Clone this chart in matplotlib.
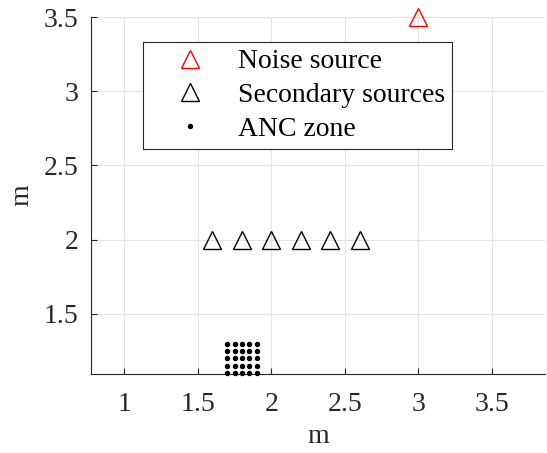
import matplotlib
matplotlib.use("Agg")
import matplotlib.pyplot as plt
import numpy as np

noise_x = [3.0]
noise_y = [3.5]
sec_x = [1.6, 1.8, 2.0, 2.2, 2.4, 2.6]
sec_y = [2.0, 2.0, 2.0, 2.0, 2.0, 2.0]
zone_xs = [1.7, 1.75, 1.8, 1.85, 1.9]
zone_ys = [1.1, 1.15, 1.2, 1.25, 1.3]
xticks = [1, 1.5, 2, 2.5, 3, 3.5]
xtick_labels = ["1", "1.5", "2", "2.5", "3", "3.5"]
yticks = [1.5, 2, 2.5, 3, 3.5]
ytick_labels = ["1.5", "2", "2.5", "3", "3.5"]

plt.rcParams['font.family'] = ['Liberation Serif', 'DejaVu Serif']
plt.rcParams['mathtext.fontset'] = 'stix'

fig = plt.figure(figsize=(5.47, 4.53), dpi=100)
ax = fig.add_axes([0.1664, 0.1744, 0.830, 0.788])

zx, zy = np.meshgrid(zone_xs, zone_ys)

ax.plot(noise_x, noise_y, linestyle='none', marker='^', markersize=13,
        markerfacecolor='none', markeredgecolor='red', markeredgewidth=1.0,
        label='Noise source', clip_on=False, zorder=5)
ax.plot(sec_x, sec_y, linestyle='none', marker='^', markersize=13,
        markerfacecolor='none', markeredgecolor='black', markeredgewidth=1.0,
        label='Secondary sources', zorder=5)
ax.plot(zx.ravel(), zy.ravel(), linestyle='none', marker='o', markersize=2.9,
        color='black', label='ANC zone', clip_on=False, zorder=5)

ax.set_xlim(0.775, 3.86)
ax.set_ylim(1.095, 3.5)
ax.set_xticks(xticks)
ax.set_xticklabels(xtick_labels)
ax.set_yticks(yticks)
ax.set_yticklabels(ytick_labels)

ax.grid(True, color='#e3e3e3', linewidth=0.8)
ax.set_axisbelow(True)
for s in ['top', 'right']:
    ax.spines[s].set_visible(False)
for s in ['left', 'bottom']:
    ax.spines[s].set_color('#262626')
    ax.spines[s].set_linewidth(0.8)
ax.tick_params(direction='in', length=4, width=0.8, colors='#262626',
               labelsize=20, labelcolor='#262626')
ax.tick_params(axis='x', pad=13)
ax.tick_params(axis='y', pad=9)

ax.set_xlabel('m', fontsize=20, color='#262626', labelpad=5)
ax.set_ylabel('m', fontsize=20, color='#262626', labelpad=7)

leg = ax.legend(loc='upper left', bbox_to_anchor=(0.1145, 0.93), borderaxespad=0,
                fontsize=20, frameon=True, fancybox=False, framealpha=1,
                edgecolor='#262626', handletextpad=0.28, labelspacing=0.3,
                handlelength=2.9, borderpad=0.25, numpoints=1)
leg.get_frame().set_linewidth(0.8)

fig.savefig('out.png', dpi=100)
